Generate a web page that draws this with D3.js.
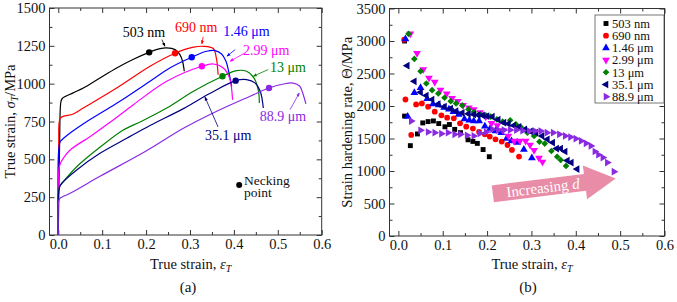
<!DOCTYPE html>
<html>
<head>
<meta charset="utf-8">
<script src="https://cdn.jsdelivr.net/npm/d3@7"></script>
<style>
  body { margin: 0; background: #fff; }
  text { font-family: "Liberation Serif", "Times New Roman", serif; fill: #111; }
</style>
</head>
<body>
<svg id="chart" width="677" height="302"></svg>
<script>
// grain sizes and colours shared by both panels
const grainSizes = ["503 nm", "690 nm", "1.46 \u03bcm", "2.99 \u03bcm", "13 \u03bcm", "35.1 \u03bcm", "88.9 \u03bcm"];
const seriesColors = ["#000000", "#ff0000", "#0000ff", "#ff00ff", "#008000", "#000080", "#8a2be2"];

// (a) true stress-strain curves [strain, stress MPa]
const curve503 = [[0,0],[0.003,600],[0.006,880],[0.009,902],[0.034,939],[0.057,971],[0.095,1038],[0.133,1104],[0.17,1160],[0.207,1207],[0.232,1231],[0.247,1236],[0.266,1225],[0.277,1192],[0.283,1148],[0.287,1082]];
const curve690 = [[0,0],[0.001,600],[0.004,770],[0.011,784],[0.034,800],[0.057,839],[0.133,971],[0.209,1115],[0.266,1201],[0.308,1241],[0.33,1247],[0.353,1232],[0.36,1170],[0.364,1059]];
const curve146 = [[0,0],[0.001,560],[0.004,615],[0.008,628],[0.03,680],[0.06,740],[0.133,870],[0.209,1016],[0.254,1104],[0.304,1175],[0.338,1214],[0.357,1218],[0.372,1196],[0.382,1148],[0.388,1082],[0.395,980]];
const curve299 = [[0,0],[0.001,420],[0.004,468],[0.012,510],[0.027,562],[0.072,650],[0.125,760],[0.171,861],[0.247,1016],[0.327,1115],[0.353,1130],[0.376,1104],[0.39,1038],[0.397,894]];
const curve13 = [[0,0],[0.001,290],[0.004,325],[0.008,340],[0.042,451],[0.095,580],[0.148,694],[0.19,752],[0.247,839],[0.308,950],[0.374,1049],[0.406,1086],[0.429,1082],[0.446,1037],[0.456,950],[0.458,872]];
const curve351 = [[0,0],[0.001,290],[0.004,325],[0.008,342],[0.042,430],[0.095,540],[0.156,639],[0.21,725],[0.285,835],[0.345,935],[0.404,1020],[0.429,1027],[0.448,1005],[0.46,950],[0.467,839]];
const curve889 = [[0,0],[0.001,225],[0.004,243],[0.008,250],[0.027,276],[0.095,388],[0.2,555],[0.285,705],[0.361,818],[0.437,917],[0.48,971],[0.513,998],[0.535,1004],[0.55,983],[0.558,927],[0.564,866]];
const stressCurves = [curve503, curve690, curve146, curve299, curve13, curve351, curve889];

// necking points [strain, stress]
const neckStrain = [0.207, 0.266, 0.304, 0.327, 0.374, 0.404, 0.48];
const neckStress = [1207, 1201, 1175, 1115, 1049, 1020, 971];

// (b) strain hardening rate [strain, theta MPa]
const theta503 = [[0.014,3000],[0.014,1845],[0.027,1390],[0.043,1570],[0.055,1740],[0.067,1760],[0.079,1770],[0.091,1730],[0.105,1680],[0.115,1715],[0.127,1640],[0.14,1590],[0.157,1480],[0.168,1455],[0.178,1425],[0.191,1330],[0.205,1220]];
const theta690 = [[0.013,3020],[0.016,2100],[0.029,1555],[0.04,2025],[0.053,2040],[0.067,1990],[0.082,1912],[0.097,1856],[0.11,1820],[0.125,1810],[0.139,1733],[0.153,1682],[0.168,1652],[0.182,1600],[0.195,1564],[0.206,1529],[0.219,1488],[0.233,1452],[0.246,1400],[0.256,1324],[0.272,1222]];
const theta146 = [[0.016,3030],[0.021,1840],[0.036,2205],[0.05,2280],[0.065,2110],[0.078,2030],[0.091,2015],[0.103,1975],[0.114,1950],[0.124,1910],[0.136,1870],[0.149,1800],[0.16,1780],[0.17,1770],[0.182,1768],[0.195,1690],[0.207,1655],[0.219,1615],[0.232,1590],[0.244,1500],[0.255,1462],[0.268,1437],[0.283,1330],[0.301,1200]];
const theta299 = [[0.027,3110],[0.042,2810],[0.056,2560],[0.069,2430],[0.082,2370],[0.095,2245],[0.109,2190],[0.121,2120],[0.134,2075],[0.146,2010],[0.159,1975],[0.17,1945],[0.184,1900],[0.197,1835],[0.21,1735],[0.223,1700],[0.236,1625],[0.248,1540],[0.261,1462],[0.274,1460],[0.287,1460],[0.297,1400],[0.306,1320],[0.317,1200],[0.325,1140]];
const theta13 = [[0.023,3110],[0.036,2725],[0.05,2535],[0.063,2347],[0.076,2244],[0.09,2193],[0.104,2127],[0.118,2075],[0.13,2040],[0.144,2009],[0.158,1948],[0.17,1907],[0.184,1871],[0.197,1856],[0.208,1836],[0.222,1794],[0.235,1759],[0.252,1780],[0.265,1718],[0.276,1677],[0.291,1590],[0.306,1539],[0.318,1450],[0.33,1422],[0.345,1308],[0.358,1220],[0.366,1170],[0.378,1078]];
const theta351 = [[0.02,2620],[0.036,2380],[0.05,2210],[0.063,2160],[0.076,2100],[0.09,2030],[0.104,1990],[0.118,1960],[0.13,1920],[0.144,1895],[0.158,1880],[0.17,1870],[0.18,1860],[0.19,1856],[0.2,1845],[0.212,1836],[0.225,1790],[0.238,1744],[0.248,1728],[0.26,1700],[0.272,1680],[0.285,1640],[0.298,1610],[0.31,1590],[0.324,1539],[0.336,1488],[0.348,1437],[0.357,1345],[0.366,1345],[0.376,1300],[0.381,1160],[0.39,1130],[0.403,1030]];
const theta889 = [[0.029,1768],[0.05,1626],[0.067,1600],[0.082,1590],[0.097,1575],[0.112,1590],[0.127,1564],[0.14,1564],[0.155,1549],[0.17,1539],[0.184,1580],[0.198,1600],[0.212,1641],[0.225,1630],[0.238,1630],[0.252,1630],[0.266,1630],[0.28,1620],[0.295,1615],[0.308,1615],[0.321,1615],[0.335,1590],[0.349,1590],[0.363,1564],[0.376,1539],[0.388,1523],[0.4,1498],[0.412,1462],[0.423,1426],[0.434,1385],[0.443,1300],[0.451,1250],[0.461,1207],[0.471,1130],[0.486,990]];
const thetaSeries = [theta503, theta690, theta146, theta299, theta13, theta351, theta889];

// tick values
const strainTicks = [0, 0.1, 0.2, 0.3, 0.4, 0.5, 0.6];
const stressTicks = [0, 250, 500, 750, 1000, 1250, 1500];
const thetaTicks = [0, 500, 1000, 1500, 2000, 2500, 3000, 3500];

const svg = d3.select("#chart");

// scales
const xA = d3.scaleLinear().domain([-0.02, 0.6]).range([49.5, 321.7]);
const yA = d3.scaleLinear().domain([0, 1500]).range([235, 8]);
const xB = d3.scaleLinear().domain([-0.02, 0.6]).range([389.5, 664.5]);
const yB = d3.scaleLinear().domain([0, 3500]).range([236, 8.5]);

function midTicks(ticks) {
    const out = [];
    for (let i = 0; i < ticks.length - 1; i++) out.push((ticks[i] + ticks[i + 1]) / 2);
    return out;
}

function drawFrame(x, y, yTicks) {
    const [x0, x1] = x.range();
    const [y0, y1] = y.range();
    const g = svg.append("g");
    const xMinor = midTicks(strainTicks);
    const yMinor = midTicks(yTicks);

    const axes = [
        { ax: d3.axisBottom(x).tickValues(strainTicks).tickFormat(d3.format(".1f")), t: `translate(0,${y0})`, size: 5, labels: true },
        { ax: d3.axisBottom(x).tickValues(xMinor), t: `translate(0,${y0})`, size: 3 },
        { ax: d3.axisTop(x).tickValues(strainTicks), t: `translate(0,${y1})`, size: 5 },
        { ax: d3.axisTop(x).tickValues(xMinor), t: `translate(0,${y1})`, size: 3 },
        { ax: d3.axisLeft(y).tickValues(yTicks).tickFormat(d3.format("d")), t: `translate(${x0},0)`, size: 5, labels: true },
        { ax: d3.axisLeft(y).tickValues(yMinor), t: `translate(${x0},0)`, size: 3 },
        { ax: d3.axisRight(y).tickValues(yTicks), t: `translate(${x1},0)`, size: 5 },
        { ax: d3.axisRight(y).tickValues(yMinor), t: `translate(${x1},0)`, size: 3 }
    ];
    axes.forEach(a => {
        a.ax.tickSize(-a.size).tickPadding(a.labels ? 4 : 0);
        if (!a.labels) a.ax.tickFormat("");
        const sel = g.append("g").attr("transform", a.t).call(a.ax);
        sel.select(".domain").remove();
        sel.selectAll("line").attr("stroke", "#333");
        sel.selectAll("text")
            .attr("font-family", '"Liberation Serif", "Times New Roman", serif')
            .attr("font-size", 14.5)
            .attr("fill", "#111");
    });
    g.append("rect")
        .attr("x", x0).attr("y", y1)
        .attr("width", x1 - x0).attr("height", y0 - y1)
        .attr("fill", "none").attr("stroke", "#333").attr("stroke-width", 1);
    return g;
}

// ---------- panel (a) ----------
const frameA = drawFrame(xA, yA, stressTicks);

const lineA = d3.line()
    .x(d => xA(d[0]))
    .y(d => yA(d[1]))
    .curve(d3.curveCatmullRom.alpha(0.5));

svg.append("g")
    .selectAll("path")
    .data(stressCurves)
    .join("path")
    .attr("d", lineA)
    .attr("fill", "none")
    .attr("stroke", (d, i) => seriesColors[i])
    .attr("stroke-width", 1.2);

svg.append("g")
    .selectAll("circle")
    .data(neckStrain)
    .join("circle")
    .attr("cx", d => xA(d))
    .attr("cy", (d, i) => yA(neckStress[i]))
    .attr("r", 3.2)
    .attr("fill", (d, i) => seriesColors[i]);

// curve labels with pointer arrows (anchors in data units)
const labelAt = [[0.147, 1307], [0.266, 1344], [0.376, 1313], [0.421, 1188], [0.482, 1075], [0.334, 628], [0.459, 751]];
const pointerFrom = [[0.236, 1291], [0.33, 1309], [0.403, 1225], [0.425, 1203], [0.478, 1093], [0.364, 714], [0.528, 828]];
const pointerTo = [[0.243, 1247], [0.327, 1262], [0.384, 1181], [0.391, 1148], [0.444, 1049], [0.334, 912], [0.549, 939]];

const defs = svg.append("defs");
seriesColors.forEach((c, i) => {
    defs.append("marker")
        .attr("id", "head" + i)
        .attr("viewBox", "0 0 10 10")
        .attr("refX", 9).attr("refY", 5)
        .attr("markerWidth", 5).attr("markerHeight", 5)
        .attr("orient", "auto")
        .append("path")
        .attr("d", "M0,1L10,5L0,9Z")
        .attr("fill", c);
});

svg.append("g")
    .selectAll("line")
    .data(pointerFrom)
    .join("line")
    .attr("x1", d => xA(d[0])).attr("y1", d => yA(d[1]))
    .attr("x2", (d, i) => xA(pointerTo[i][0])).attr("y2", (d, i) => yA(pointerTo[i][1]))
    .attr("stroke", (d, i) => seriesColors[i])
    .attr("stroke-width", 0.8)
    .attr("marker-end", (d, i) => `url(#head${i})`);

svg.append("g")
    .selectAll("text")
    .data(grainSizes)
    .join("text")
    .attr("x", (d, i) => xA(labelAt[i][0]))
    .attr("y", (d, i) => yA(labelAt[i][1]))
    .attr("font-size", 14)
    .style("fill", (d, i) => seriesColors[i])
    .text(d => d);

// necking point key
svg.append("circle")
    .attr("cx", xA(0.412)).attr("cy", yA(330))
    .attr("r", 3).attr("fill", "#000");
svg.append("text")
    .attr("x", xA(0.423)).attr("y", yA(333))
    .attr("font-size", 13.5)
    .selectAll("tspan")
    .data(["Necking", "point"])
    .join("tspan")
    .attr("x", xA(0.423))
    .attr("dy", (d, i) => i === 0 ? 0 : 12)
    .text(d => d);

// ---------- panel (b) ----------
const frameB = drawFrame(xB, yB, thetaTicks);

// pink "Increasing d" arrow
const arrowTail = [0.213, 649];
const arrowTip = [0.49, 885];
const ax0 = xB(arrowTail[0]), ay0 = yB(arrowTail[1]);
const ax1 = xB(arrowTip[0]), ay1 = yB(arrowTip[1]);
const aLen = Math.hypot(ax1 - ax0, ay1 - ay0);
const aAng = Math.atan2(ay1 - ay0, ax1 - ax0) * 180 / Math.PI;
const headL = 31, bodyH = 8.5, headH = 17;
const arrowG = svg.append("g").attr("transform", `translate(${ax0},${ay0}) rotate(${aAng})`);
arrowG.append("path")
    .attr("d", `M0,${-bodyH}L${aLen - headL},${-bodyH}L${aLen - headL},${-headH}L${aLen},0L${aLen - headL},${headH}L${aLen - headL},${bodyH}L0,${bodyH}Z`)
    .attr("fill", "#e98ca8");
const arrowText = arrowG.append("text")
    .attr("x", (aLen - headL) / 2 + 4)
    .attr("y", 0)
    .attr("dy", "0.35em")
    .attr("text-anchor", "middle")
    .attr("font-size", 15)
    .style("fill", "#fff");
arrowText.append("tspan").text("Increasing ");
arrowText.append("tspan").attr("font-style", "italic").text("d");

// symbols for each series
const symbolKinds = [
    { type: d3.symbolSquare, rot: 0, size: 24 },
    { type: d3.symbolCircle, rot: 0, size: 26 },
    { type: d3.symbolTriangle, rot: 0, size: 26 },
    { type: d3.symbolTriangle, rot: 180, size: 26 },
    { type: d3.symbolSquare, rot: 45, size: 22 },
    { type: d3.symbolTriangle, rot: -90, size: 26 },
    { type: d3.symbolTriangle, rot: 90, size: 26 }
];

thetaSeries.forEach((series, i) => {
    const k = symbolKinds[i];
    svg.append("g")
        .selectAll("path")
        .data(series)
        .join("path")
        .attr("d", d3.symbol().type(k.type).size(k.size))
        .attr("transform", d => `translate(${xB(d[0])},${yB(d[1])}) rotate(${k.rot})`)
        .attr("fill", seriesColors[i]);
});

// legend
const legend = svg.append("g").attr("transform", "translate(595,15)");
legend.append("rect")
    .attr("width", 69).attr("height", 88)
    .attr("fill", "#fff").attr("stroke", "#555").attr("stroke-width", 0.8);
grainSizes.forEach((name, i) => {
    const k = symbolKinds[i];
    const row = legend.append("g").attr("transform", `translate(0,${8.5 + i * 12.2})`);
    row.append("path")
        .attr("d", d3.symbol().type(k.type).size(k.size))
        .attr("transform", `translate(11,0) rotate(${k.rot})`)
        .attr("fill", seriesColors[i]);
    row.append("text")
        .attr("x", 17).attr("y", 0).attr("dy", "0.35em")
        .attr("font-size", 12.5)
        .text(name);
});

// ---------- axis titles ----------
function strainTitle(x) {
    const [x0, x1] = x.range();
    const t = svg.append("text")
        .attr("x", (x0 + x1) / 2 + 5).attr("y", 269)
        .attr("text-anchor", "middle")
        .attr("font-size", 14.5);
    t.append("tspan").text("True strain, ");
    t.append("tspan").attr("font-style", "italic").text("\u03b5");
    t.append("tspan").attr("font-style", "italic").attr("font-size", 10).attr("dy", 3).text("T");
}
strainTitle(xA);
strainTitle(xB);

const yTitleA = svg.append("text")
    .attr("transform", `translate(15,${(yA.range()[0] + yA.range()[1]) / 2}) rotate(-90)`)
    .attr("text-anchor", "middle")
    .attr("font-size", 14.5);
yTitleA.append("tspan").text("True strain, ");
yTitleA.append("tspan").attr("font-style", "italic").text("\u03c3");
yTitleA.append("tspan").attr("font-style", "italic").attr("font-size", 10).attr("dy", 3).text("T");
yTitleA.append("tspan").attr("dy", -3).text("/MPa");

const yTitleB = svg.append("text")
    .attr("transform", `translate(352,${(yB.range()[0] + yB.range()[1]) / 2}) rotate(-90)`)
    .attr("text-anchor", "middle")
    .attr("font-size", 14.5);
yTitleB.append("tspan").text("Strain hardening rate, \u0398/MPa");

// panel tags
svg.append("text").attr("x", 188).attr("y", 292).attr("text-anchor", "middle").attr("font-size", 15).text("(a)");
svg.append("text").attr("x", 528).attr("y", 292).attr("text-anchor", "middle").attr("font-size", 15).text("(b)");
</script>
</body>
</html>
